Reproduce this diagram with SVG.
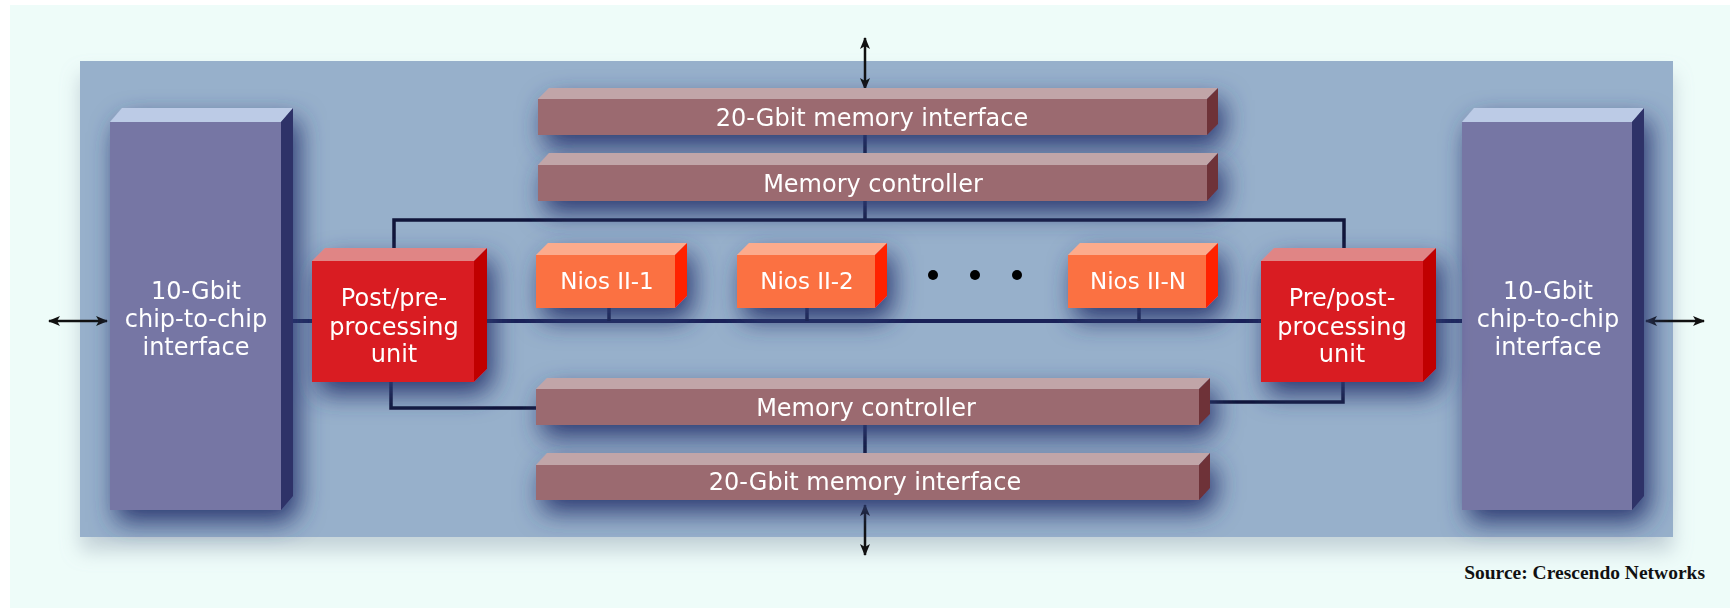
<svg xmlns="http://www.w3.org/2000/svg" width="1730" height="608" viewBox="0 0 1730 608">
<defs>
<style>
.lbl{font-family:"DejaVu Sans","Liberation Sans",sans-serif;fill:#ffffff;text-anchor:middle}
.bus{fill:none;stroke:#10153a;stroke-width:3.5}
.main{fill:none;stroke:#1a2258;stroke-width:4}
.arr{fill:none;stroke:#111;stroke-width:2.5;marker-start:url(#ah);marker-end:url(#ah)}
.chipF{fill:#7676a4}.chipT{fill:#bccbe6}.chipS{fill:#2e3068}
.redF{fill:#d91c20}.redT{fill:#e08585}.redS{fill:#c00000}
.niosF{fill:#fb7143}.niosT{fill:#fcab8c}.niosS{fill:#ff2200}
.memF{fill:#9b6a6f}.memT{fill:#c1a5a8}.memS{fill:#6e3038}
</style>
<marker id="ah" viewBox="0 0 12 10" refX="11" refY="5" markerWidth="12" markerHeight="10" markerUnits="userSpaceOnUse" orient="auto-start-reverse">
<path d="M0,0 L12,5 L0,10 L3,5 Z" fill="#111"/>
</marker>
<filter id="sh" x="-20%" y="-120%" width="150%" height="360%">
<feGaussianBlur in="SourceAlpha" stdDeviation="13"/>
<feOffset dx="6" dy="12" result="b"/>
<feFlood flood-color="#2c3a72" flood-opacity="1"/>
<feComposite in2="b" operator="in"/>
<feMerge><feMergeNode/><feMergeNode in="SourceGraphic"/></feMerge>
</filter>
<filter id="psh" x="-5%" y="-5%" width="110%" height="120%">
<feGaussianBlur in="SourceAlpha" stdDeviation="10"/>
<feOffset dx="0" dy="14" result="b"/>
<feFlood flood-color="#9aa9b8" flood-opacity="0.5"/>
<feComposite in2="b" operator="in"/>
<feMerge><feMergeNode/><feMergeNode in="SourceGraphic"/></feMerge>
</filter>
</defs>
<rect x="0" y="0" width="1730" height="608" fill="#ffffff"/>
<rect x="10" y="5" width="1720" height="603" fill="#eefcf9"/>
<rect id="panel" x="80" y="61" width="1593" height="476" fill="#97b0cb" filter="url(#psh)"/>

<g id="connectors">
<path class="arr" d="M865,38 V89"/>
<path class="arr" d="M865,505 V555"/>
<path class="arr" d="M49,321 H107"/>
<path class="arr" d="M1646,321 H1704"/>
<path class="bus" d="M865,135 V165"/>
<path class="bus" d="M865,201 V220"/>
<path class="bus" d="M394,256 V220 H1344 V256"/>
<path class="main" d="M293,321 H312"/>
<path class="main" d="M487,321 H1261"/>
<path class="main" d="M1435,321 H1462"/>
<path class="bus" d="M609,308 V321"/>
<path class="bus" d="M807,308 V321"/>
<path class="bus" d="M1139,308 V321"/>
<path class="bus" d="M391,382 V408 H536"/>
<path class="bus" d="M1343,382 V402 H1206"/>
<path class="bus" d="M865,425 V465"/>
</g>

<g id="chip-left" filter="url(#sh)">
<rect class="chipF" x="110" y="122" width="171" height="388"/>
<polygon class="chipT" points="110,122 122,108 293,108 281,122"/>
<polygon class="chipS" points="281,122 293,108 293,496 281,510"/>
<text class="lbl" font-size="24" x="196" y="299">10-Gbit</text>
<text class="lbl" font-size="24" x="196" y="327">chip-to-chip</text>
<text class="lbl" font-size="24" x="196" y="355">interface</text>
</g>

<g id="chip-right" filter="url(#sh)">
<rect class="chipF" x="1462" y="122" width="170" height="388"/>
<polygon class="chipT" points="1462,122 1474,108 1644,108 1632,122"/>
<polygon class="chipS" points="1632,122 1644,108 1644,496 1632,510"/>
<text class="lbl" font-size="24" x="1548" y="299">10-Gbit</text>
<text class="lbl" font-size="24" x="1548" y="327">chip-to-chip</text>
<text class="lbl" font-size="24" x="1548" y="355">interface</text>
</g>

<g id="mem-if-top" filter="url(#sh)">
<rect class="memF" x="538" y="99" width="669" height="36"/>
<polygon class="memT" points="538,99 549,88 1218,88 1207,99"/>
<polygon class="memS" points="1207,99 1218,88 1218,124 1207,135"/>
<text class="lbl" font-size="24" x="872" y="126">20-Gbit memory interface</text>
</g>

<g id="mem-ctrl-top" filter="url(#sh)">
<rect class="memF" x="538" y="165" width="669" height="36"/>
<polygon class="memT" points="538,165 549,153 1218,153 1207,165"/>
<polygon class="memS" points="1207,165 1218,153 1218,189 1207,201"/>
<text class="lbl" font-size="24" x="873" y="192">Memory controller</text>
</g>

<g id="post-pre" filter="url(#sh)">
<rect class="redF" x="312" y="261" width="162" height="121"/>
<polygon class="redT" points="312,261 325,248 487,248 474,261"/>
<polygon class="redS" points="474,261 487,248 487,369 474,382"/>
<text class="lbl" font-size="24" x="394" y="306">Post/pre-</text>
<text class="lbl" font-size="24" x="394" y="335">processing</text>
<text class="lbl" font-size="24" x="394" y="362">unit</text>
</g>

<g id="nios-1" filter="url(#sh)">
<rect class="niosF" x="536" y="255" width="139" height="53"/>
<polygon class="niosT" points="536,255 548,243 687,243 675,255"/>
<polygon class="niosS" points="675,255 687,243 687,296 675,308"/>
<text class="lbl" font-size="23" x="607" y="289">Nios II-1</text>
</g>

<g id="nios-2" filter="url(#sh)">
<rect class="niosF" x="737" y="255" width="138" height="53"/>
<polygon class="niosT" points="737,255 749,243 887,243 875,255"/>
<polygon class="niosS" points="875,255 887,243 887,296 875,308"/>
<text class="lbl" font-size="23" x="807" y="289">Nios II-2</text>
</g>

<g id="dots">
<circle cx="933" cy="275" r="5" fill="#000"/>
<circle cx="975" cy="275" r="5" fill="#000"/>
<circle cx="1017" cy="275" r="5" fill="#000"/>
</g>

<g id="nios-n" filter="url(#sh)">
<rect class="niosF" x="1068" y="255" width="138" height="53"/>
<polygon class="niosT" points="1068,255 1080,243 1218,243 1206,255"/>
<polygon class="niosS" points="1206,255 1218,243 1218,296 1206,308"/>
<text class="lbl" font-size="23" x="1138" y="289">Nios II-N</text>
</g>

<g id="pre-post" filter="url(#sh)">
<rect class="redF" x="1261" y="261" width="162" height="121"/>
<polygon class="redT" points="1261,261 1274,248 1436,248 1423,261"/>
<polygon class="redS" points="1423,261 1436,248 1436,369 1423,382"/>
<text class="lbl" font-size="24" x="1342" y="306">Pre/post-</text>
<text class="lbl" font-size="24" x="1342" y="335">processing</text>
<text class="lbl" font-size="24" x="1342" y="362">unit</text>
</g>

<g id="mem-ctrl-bottom" filter="url(#sh)">
<rect class="memF" x="536" y="389" width="663" height="36"/>
<polygon class="memT" points="536,389 547,378 1210,378 1199,389"/>
<polygon class="memS" points="1199,389 1210,378 1210,414 1199,425"/>
<text class="lbl" font-size="24" x="866" y="416">Memory controller</text>
</g>

<g id="mem-if-bottom" filter="url(#sh)">
<rect class="memF" x="536" y="465" width="663" height="35"/>
<polygon class="memT" points="536,465 547,453 1210,453 1199,465"/>
<polygon class="memS" points="1199,465 1210,453 1210,488 1199,500"/>
<text class="lbl" font-size="24" x="865" y="490">20-Gbit memory interface</text>
</g>

<text x="1705" y="579" font-family="Liberation Serif, serif" font-weight="bold" font-size="19.5" text-anchor="end" fill="#111">Source: Crescendo Networks</text>
</svg>
